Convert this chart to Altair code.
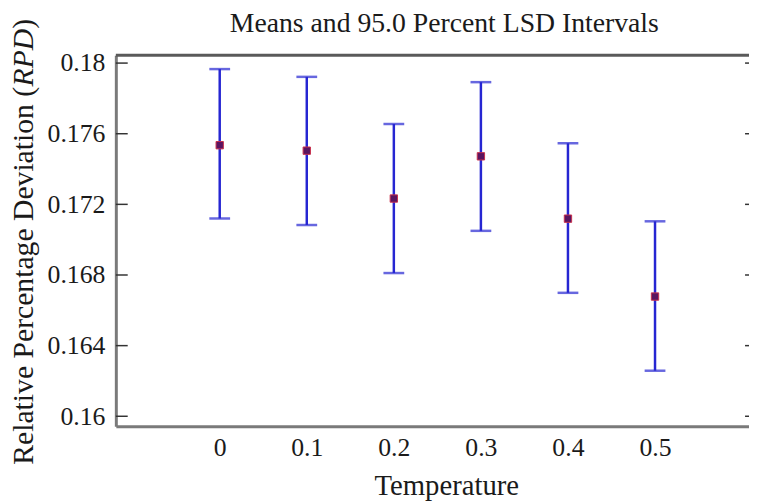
import altair as alt
import pandas as pd

# ---- data ----
temperature = [0.0, 0.1, 0.2, 0.3, 0.4, 0.5]
mean_rpd = [0.17535, 0.17504, 0.17233, 0.17472, 0.17119, 0.16678]
lower_rpd = [0.17120, 0.17083, 0.16811, 0.17050, 0.16699, 0.16258]
upper_rpd = [0.17966, 0.17922, 0.17655, 0.17892, 0.17546, 0.17104]

x_ticks = [0.0, 0.1, 0.2, 0.3, 0.4, 0.5]
y_ticks = [0.16, 0.164, 0.168, 0.172, 0.176, 0.18]

title_text = ["Means and 95.0 Percent LSD Intervals"]
x_title = "Temperature"
y_title_main = ["Relative Percentage Deviation ("]
y_title_italic = ["RPD"]
y_title_close = [")"]

# ---- layout / style ----
W, H = 640, 375
FONT = "Liberation Serif"
TXT = "#1a1a1a"
BAR = "#2626d2"
AX = "#7a7a7a"

df = pd.DataFrame({"temp": temperature, "mean": mean_rpd, "lo": lower_rpd, "hi": upper_rpd})
ticks_df = pd.DataFrame({"v": y_ticks})
one = pd.DataFrame({"a": [0]})

xs = alt.Scale(domain=[-0.11932, 0.60795], nice=False, zero=False)
ys = alt.Scale(domain=[0.15944, 0.180448], nice=False, zero=False)

x_axis = alt.Axis(
    values=x_ticks, format=".1~f", title=x_title, grid=False,
    ticks=False, tickSize=0, labelPadding=9,
    labelFont=FONT, labelFontSize=26, labelColor=TXT,
    domainColor=AX, domainWidth=3,
    titleFont=FONT, titleFontSize=29, titleFontWeight="normal", titleColor=TXT,
    titleX=334, titleY=69, titleBaseline="alphabetic", titleAlign="center",
)
y_axis = alt.Axis(
    values=y_ticks, format=".3~f", title=None, grid=False,
    ticks=False, tickSize=0, labelPadding=11,
    labelFont=FONT, labelFontSize=26, labelColor=TXT,
    domainColor=AX, domainWidth=3,
)

bars = alt.Chart(df).mark_rule(color=BAR, strokeWidth=2.5).encode(
    x=alt.X("temp:Q", scale=xs, axis=x_axis),
    y=alt.Y("lo:Q", scale=ys, axis=y_axis),
    y2="hi:Q",
)
cap_lo = alt.Chart(df).mark_tick(color=BAR, orient="horizontal", size=21, thickness=2.5).encode(
    x=alt.X("temp:Q", scale=xs), y=alt.Y("lo:Q", scale=ys)
)
cap_hi = alt.Chart(df).mark_tick(color=BAR, orient="horizontal", size=21, thickness=2.5).encode(
    x=alt.X("temp:Q", scale=xs), y=alt.Y("hi:Q", scale=ys)
)
means = alt.Chart(df).mark_point(
    shape="square", filled=True, size=55, fill="#5a1560", stroke="#c8304c", strokeWidth=1, opacity=1
).encode(x=alt.X("temp:Q", scale=xs), y=alt.Y("mean:Q", scale=ys))

left_ticks = alt.Chart(ticks_df).mark_rule(color="#333333", strokeWidth=1.5).encode(
    y=alt.Y("v:Q", scale=ys), x=alt.value(0), x2=alt.value(12)
)
right_ticks = alt.Chart(ticks_df).mark_rule(color="#333333", strokeWidth=1.5).encode(
    y=alt.Y("v:Q", scale=ys), x=alt.value(W - 4), x2=alt.value(W)
)
top_border = alt.Chart(one).mark_rule(color="#5a5a5a", strokeWidth=3).encode(
    x=alt.value(0), x2=alt.value(W), y=alt.value(0)
)

title_mark = alt.Chart(pd.DataFrame({"t": title_text})).mark_text(
    font=FONT, fontSize=28, color=TXT, align="center", baseline="alphabetic"
).encode(text="t:N", x=alt.value(332), y=alt.value(-23))

ytitle_kw = dict(font=FONT, fontSize=30, color=TXT, angle=270, align="left", baseline="alphabetic")
yt1 = alt.Chart(pd.DataFrame({"t": y_title_main})).mark_text(**ytitle_kw).encode(
    text="t:N", x=alt.value(-84), y=alt.value(414)
)
yt2 = alt.Chart(pd.DataFrame({"t": y_title_italic})).mark_text(fontStyle="italic", **ytitle_kw).encode(
    text="t:N", x=alt.value(-84), y=alt.value(31.6)
)
yt3 = alt.Chart(pd.DataFrame({"t": y_title_close})).mark_text(**ytitle_kw).encode(
    text="t:N", x=alt.value(-84), y=alt.value(-26.7)
)

chart = alt.layer(
    bars, cap_lo, cap_hi, means, left_ticks, right_ticks, top_border,
    title_mark, yt1, yt2, yt3
).properties(
    width=W, height=H,
    autosize=alt.AutoSizeParams(type="none"),
    padding={"left": 109, "top": 45, "right": 0, "bottom": 76},
).configure_view(strokeWidth=0)

chart.save("out.html", embed_options={"renderer": "svg", "actions": False})
